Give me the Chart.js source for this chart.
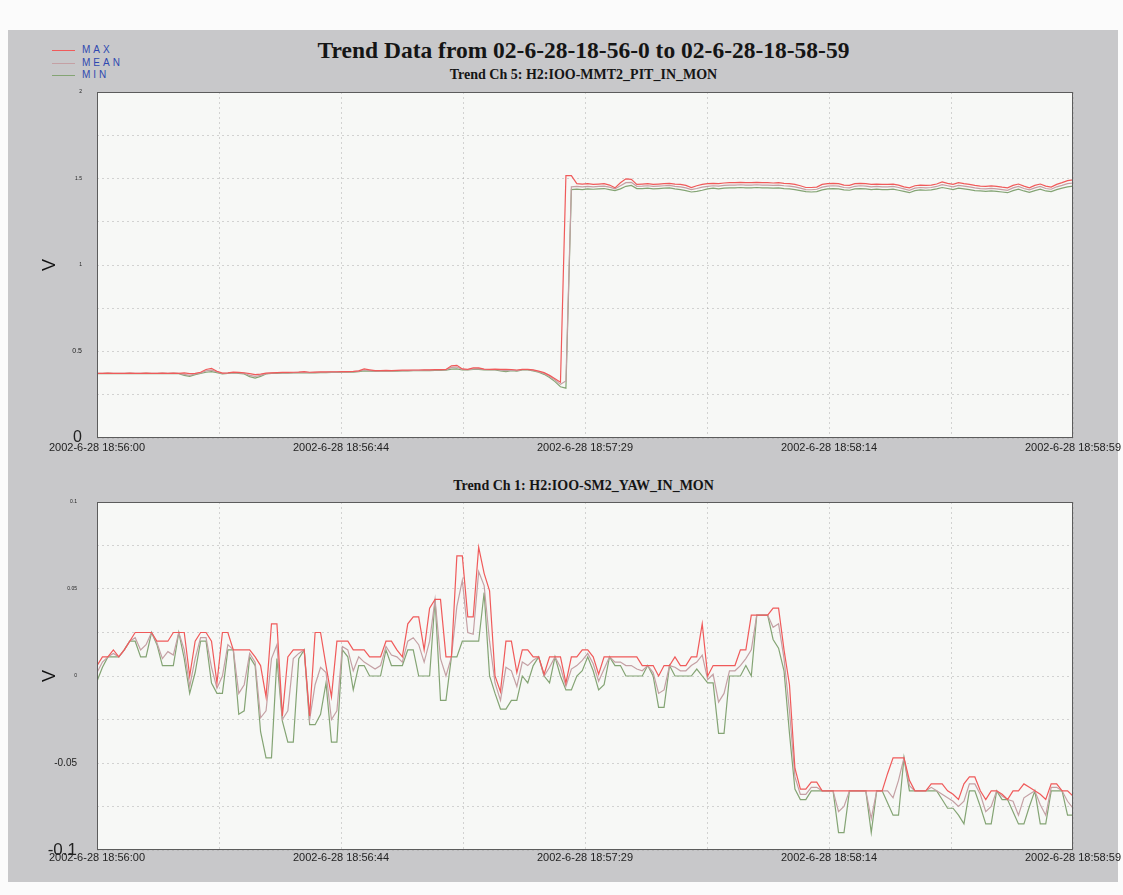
<!DOCTYPE html>
<html>
<head>
<meta charset="utf-8">
<title>Trend Data</title>
<script src="https://cdn.jsdelivr.net/npm/chart.js@4.4.1/dist/chart.umd.min.js"></script>
<style>
  html, body { margin: 0; padding: 0; background: #fbfbfb; }
  body { width: 1123px; height: 895px; position: relative; overflow: hidden; font-family: "Liberation Sans", Arial, sans-serif; }
  #sheet { position: absolute; left: 8px; top: 30px; width: 1110px; height: 852px; background: #c8c8ca; }
  canvas { position: absolute; left: 0; }
  #cTop { top: 80px; }
  #cBot { top: 490px; }
  .ttl { position: absolute; left: 22px; width: 1123px; text-align: center; font-family: "Liberation Serif", "Times New Roman", serif; font-weight: bold; color: #151515; white-space: nowrap; }
  #t0 { top: 38px; font-size: 23.5px; line-height: 24px; }
  #t1 { top: 68px; font-size: 14px; line-height: 14px; }
  #t2 { top: 479px; font-size: 14px; line-height: 14px; }
  .lg { position: absolute; left: 52px; height: 12px; }
  .lg i { position: absolute; left: 0; top: 6px; width: 23px; height: 1px; }
  .lg span { position: absolute; left: 30px; top: 0; font-size: 10px; line-height: 12px; letter-spacing: 3px; color: #2f48b0; }
</style>
</head>
<body>
<div id="sheet"></div>
<div class="lg" style="top:44px"><i style="background:#f05a5a"></i><span>MAX</span></div>
<div class="lg" style="top:57px"><i style="background:#c4a0a4"></i><span>MEAN</span></div>
<div class="lg" style="top:69px"><i style="background:#84a474"></i><span>MIN</span></div>
<div class="ttl" id="t0">Trend Data from 02-6-28-18-56-0 to 02-6-28-18-58-59</div>
<div class="ttl" id="t1">Trend Ch 5: H2:IOO-MMT2_PIT_IN_MON</div>
<div class="ttl" id="t2">Trend Ch 1: H2:IOO-SM2_YAW_IN_MON</div>
<canvas id="cTop" width="1123" height="380"></canvas>
<canvas id="cBot" width="1123" height="380"></canvas>
<script>
// x axis labels (one sample per second, 18:56:00 .. 18:58:59)
const xTickLabels = ['2002-6-28 18:56:00', '2002-6-28 18:56:44', '2002-6-28 18:57:29', '2002-6-28 18:58:14', '2002-6-28 18:58:59'];

// Ch 5: H2:IOO-MMT2_PIT_IN_MON
const yTopTicks = [0, 0.25, 0.5, 0.75, 1, 1.25, 1.5, 1.75, 2];
const yTopLabels = ['0', '', '0.5', '', '1', '', '1.5', '', '2'];

const mmtMax = [
  0.374, 0.374, 0.375, 0.374, 0.374, 0.374, 0.375, 0.374, 0.374, 0.375,
  0.374, 0.374, 0.375, 0.374, 0.375, 0.374, 0.376, 0.372, 0.374, 0.380,
  0.396, 0.402, 0.386, 0.375, 0.377, 0.381, 0.379, 0.377, 0.372, 0.366,
  0.369, 0.375, 0.377, 0.378, 0.379, 0.379, 0.380, 0.381, 0.384, 0.380,
  0.381, 0.382, 0.382, 0.383, 0.383, 0.384, 0.384, 0.385, 0.388, 0.399,
  0.394, 0.389, 0.390, 0.391, 0.390, 0.391, 0.392, 0.392, 0.393, 0.393,
  0.394, 0.394, 0.395, 0.395, 0.396, 0.417, 0.420, 0.399, 0.397, 0.405,
  0.405, 0.398, 0.397, 0.398, 0.397, 0.397, 0.396, 0.393, 0.397, 0.397,
  0.394, 0.387, 0.378, 0.362, 0.342, 0.322, 1.517, 1.517, 1.470, 1.468,
  1.470, 1.466, 1.468, 1.470, 1.462, 1.446, 1.475, 1.498, 1.495, 1.466,
  1.468, 1.470, 1.466, 1.468, 1.470, 1.472, 1.468, 1.466, 1.460, 1.448,
  1.458, 1.466, 1.470, 1.472, 1.470, 1.474, 1.476, 1.476, 1.478, 1.476,
  1.476, 1.478, 1.476, 1.476, 1.474, 1.476, 1.472, 1.470, 1.466, 1.458,
  1.448, 1.448, 1.450, 1.466, 1.470, 1.472, 1.470, 1.462, 1.460, 1.470,
  1.472, 1.470, 1.466, 1.468, 1.466, 1.466, 1.468, 1.462, 1.452, 1.446,
  1.458, 1.462, 1.460, 1.462, 1.468, 1.480, 1.472, 1.466, 1.476, 1.470,
  1.466, 1.460, 1.456, 1.455, 1.457, 1.455, 1.450, 1.446, 1.460, 1.468,
  1.456, 1.446, 1.460, 1.468, 1.456, 1.450, 1.466, 1.476, 1.488, 1.492
];
const mmtMean = [
  0.373, 0.373, 0.374, 0.373, 0.373, 0.373, 0.374, 0.373, 0.373, 0.374,
  0.373, 0.373, 0.374, 0.373, 0.374, 0.373, 0.368, 0.362, 0.370, 0.376,
  0.388, 0.392, 0.382, 0.373, 0.375, 0.378, 0.376, 0.374, 0.362, 0.356,
  0.362, 0.372, 0.375, 0.376, 0.377, 0.377, 0.378, 0.379, 0.380, 0.378,
  0.379, 0.380, 0.380, 0.381, 0.381, 0.382, 0.382, 0.383, 0.386, 0.393,
  0.390, 0.387, 0.388, 0.389, 0.388, 0.389, 0.390, 0.390, 0.391, 0.391,
  0.392, 0.392, 0.393, 0.393, 0.394, 0.408, 0.410, 0.396, 0.395, 0.400,
  0.401, 0.396, 0.395, 0.396, 0.392, 0.389, 0.392, 0.390, 0.395, 0.395,
  0.391, 0.383, 0.373, 0.356, 0.335, 0.310, 0.330, 1.452, 1.455, 1.452,
  1.455, 1.452, 1.454, 1.456, 1.450, 1.440, 1.458, 1.476, 1.478, 1.455,
  1.456, 1.458, 1.454, 1.456, 1.458, 1.460, 1.455, 1.452, 1.446, 1.436,
  1.442, 1.450, 1.455, 1.458, 1.456, 1.460, 1.462, 1.462, 1.464, 1.462,
  1.462, 1.464, 1.462, 1.462, 1.460, 1.462, 1.458, 1.456, 1.452, 1.444,
  1.436, 1.435, 1.438, 1.450, 1.456, 1.458, 1.456, 1.448, 1.446, 1.455,
  1.458, 1.456, 1.452, 1.454, 1.452, 1.452, 1.454, 1.448, 1.440, 1.432,
  1.444, 1.448, 1.446, 1.448, 1.454, 1.464, 1.458, 1.452, 1.460, 1.456,
  1.452, 1.446, 1.442, 1.440, 1.443, 1.440, 1.436, 1.432, 1.446, 1.454,
  1.442, 1.434, 1.446, 1.454, 1.442, 1.438, 1.452, 1.460, 1.470, 1.474
];
const mmtMin = [
  0.372, 0.372, 0.373, 0.372, 0.372, 0.372, 0.373, 0.372, 0.372, 0.373,
  0.372, 0.372, 0.373, 0.372, 0.373, 0.372, 0.362, 0.356, 0.366, 0.374,
  0.380, 0.384, 0.378, 0.371, 0.373, 0.376, 0.374, 0.370, 0.355, 0.346,
  0.356, 0.370, 0.373, 0.374, 0.375, 0.375, 0.376, 0.377, 0.378, 0.376,
  0.377, 0.378, 0.378, 0.379, 0.379, 0.380, 0.380, 0.381, 0.384, 0.388,
  0.386, 0.385, 0.386, 0.387, 0.386, 0.387, 0.388, 0.388, 0.389, 0.389,
  0.390, 0.390, 0.391, 0.391, 0.392, 0.398, 0.400, 0.393, 0.393, 0.396,
  0.397, 0.394, 0.393, 0.394, 0.388, 0.384, 0.389, 0.386, 0.393, 0.393,
  0.388, 0.380, 0.368, 0.350, 0.326, 0.296, 0.288, 1.436, 1.438, 1.436,
  1.440, 1.438, 1.440, 1.442, 1.436, 1.430, 1.440, 1.455, 1.460, 1.442,
  1.442, 1.444, 1.440, 1.442, 1.444, 1.446, 1.440, 1.436, 1.430, 1.422,
  1.426, 1.432, 1.440, 1.444, 1.440, 1.444, 1.446, 1.446, 1.448, 1.446,
  1.446, 1.448, 1.446, 1.446, 1.444, 1.446, 1.442, 1.440, 1.436, 1.430,
  1.424, 1.422, 1.424, 1.434, 1.440, 1.442, 1.440, 1.434, 1.432, 1.440,
  1.442, 1.440, 1.436, 1.438, 1.436, 1.436, 1.438, 1.432, 1.426, 1.418,
  1.430, 1.434, 1.432, 1.434, 1.440, 1.448, 1.442, 1.436, 1.444, 1.440,
  1.436, 1.430, 1.428, 1.426, 1.428, 1.426, 1.422, 1.418, 1.430, 1.438,
  1.428, 1.420, 1.430, 1.438, 1.428, 1.424, 1.436, 1.444, 1.452, 1.456
];

// Ch 1: H2:IOO-SM2_YAW_IN_MON
const yBotTicks = [-0.1, -0.075, -0.05, -0.025, 0, 0.025, 0.05, 0.075, 0.1];
const yBotLabels = ['-0.1', '', '-0.05', '', '0', '', '0.05', '', '0.1'];

const sm2Max = [
  0.006, 0.011, 0.011, 0.015, 0.011, 0.015, 0.020, 0.025, 0.025, 0.025,
  0.025, 0.020, 0.020, 0.020, 0.025, 0.025, 0.025, 0.000, 0.020, 0.025,
  0.025, 0.020, -0.004, 0.025, 0.025, 0.015, 0.015, 0.015, 0.015, 0.011,
  0.006, -0.012, 0.030, 0.030, -0.023, 0.011, 0.015, 0.015, 0.015, -0.023,
  0.025, 0.025, 0.006, -0.012, 0.020, 0.020, 0.020, 0.015, 0.015, 0.015,
  0.011, 0.011, 0.011, 0.020, 0.020, 0.015, 0.011, 0.030, 0.034, 0.034,
  0.015, 0.039, 0.044, 0.044, 0.011, 0.011, 0.069, 0.069, 0.034, 0.034,
  0.074, 0.059, 0.049, 0.000, -0.009, 0.020, 0.020, 0.002, 0.015, 0.015,
  0.011, 0.011, 0.001, 0.011, 0.011, 0.011, -0.004, 0.011, 0.011, 0.015,
  0.015, 0.011, 0.001, 0.011, 0.011, 0.011, 0.011, 0.011, 0.011, 0.011,
  0.006, 0.006, 0.006, 0.000, 0.006, 0.006, 0.011, 0.006, 0.006, 0.011,
  0.011, 0.030, 0.000, 0.006, 0.006, 0.006, 0.006, 0.006, 0.015, 0.015,
  0.035, 0.035, 0.035, 0.035, 0.039, 0.039, 0.015, -0.005, -0.053, -0.065,
  -0.065, -0.061, -0.061, -0.066, -0.066, -0.066, -0.066, -0.066, -0.066, -0.066,
  -0.066, -0.066, -0.066, -0.066, -0.066, -0.056, -0.047, -0.047, -0.047, -0.060,
  -0.066, -0.066, -0.066, -0.062, -0.062, -0.062, -0.066, -0.068, -0.071, -0.062,
  -0.058, -0.058, -0.066, -0.071, -0.066, -0.066, -0.068, -0.071, -0.066, -0.066,
  -0.062, -0.064, -0.066, -0.068, -0.071, -0.062, -0.062, -0.066, -0.066, -0.069
];
const sm2Mean = [
  0.002, 0.008, 0.011, 0.013, 0.011, 0.015, 0.020, 0.022, 0.015, 0.018,
  0.025, 0.019, 0.010, 0.014, 0.012, 0.025, 0.015, -0.006, 0.010, 0.022,
  0.022, 0.005, -0.007, 0.000, 0.018, 0.015, -0.010, -0.005, 0.013, 0.008,
  -0.024, -0.020, 0.010, 0.018, -0.025, -0.020, 0.010, 0.013, 0.015, -0.025,
  -0.005, 0.005, 0.002, -0.025, -0.020, 0.017, 0.015, 0.003, 0.011, 0.008,
  0.006, 0.004, 0.006, 0.017, 0.012, 0.011, 0.008, 0.020, 0.022, 0.018,
  0.008, 0.020, 0.044, 0.010, 0.000, 0.011, 0.040, 0.055, 0.025, 0.024,
  0.060, 0.052, 0.020, -0.004, -0.014, 0.005, 0.003, -0.006, 0.008, 0.006,
  0.009, 0.011, 0.000, 0.005, 0.011, 0.005, -0.006, 0.004, 0.006, 0.009,
  0.013, 0.007, -0.003, 0.004, 0.011, 0.008, 0.008, 0.006, 0.006, 0.004,
  0.003, 0.006, 0.002, -0.010, -0.008, 0.006, 0.005, 0.003, 0.003, 0.006,
  0.008, 0.012, -0.002, 0.001, -0.015, -0.010, 0.003, 0.003, 0.006, 0.010,
  0.015, 0.035, 0.035, 0.035, 0.028, 0.030, 0.010, -0.020, -0.058, -0.068,
  -0.068, -0.064, -0.064, -0.066, -0.066, -0.066, -0.078, -0.075, -0.066, -0.066,
  -0.066, -0.066, -0.082, -0.066, -0.066, -0.066, -0.070, -0.060, -0.047, -0.063,
  -0.066, -0.066, -0.066, -0.064, -0.066, -0.068, -0.070, -0.072, -0.075, -0.072,
  -0.062, -0.062, -0.068, -0.078, -0.075, -0.066, -0.069, -0.071, -0.072, -0.080,
  -0.070, -0.068, -0.066, -0.074, -0.080, -0.064, -0.064, -0.066, -0.072, -0.076
];
const sm2Min = [
  -0.003, 0.005, 0.011, 0.011, 0.011, 0.015, 0.020, 0.020, 0.011, 0.011,
  0.025, 0.018, 0.006, 0.006, 0.006, 0.025, 0.010, -0.010, 0.002, 0.020,
  0.020, -0.004, -0.010, -0.010, 0.015, 0.015, -0.022, -0.020, 0.011, 0.006,
  -0.032, -0.047, -0.047, 0.010, -0.026, -0.038, -0.038, 0.010, 0.015, -0.028,
  -0.028, -0.022, -0.004, -0.038, -0.038, 0.015, 0.011, -0.008, 0.006, 0.006,
  0.000, 0.000, 0.000, 0.015, 0.006, 0.006, 0.006, 0.015, 0.015, 0.000,
  0.000, 0.000, 0.044, -0.014, -0.014, 0.011, 0.011, 0.020, 0.020, 0.020,
  0.020, 0.048, 0.000, -0.010, -0.019, -0.019, -0.014, -0.014, 0.000, -0.004,
  0.006, 0.011, 0.000, -0.004, 0.011, 0.000, -0.008, -0.008, 0.000, 0.003,
  0.011, 0.003, -0.008, -0.005, 0.011, 0.006, 0.006, 0.000, 0.000, 0.000,
  0.000, 0.006, 0.000, -0.018, -0.018, 0.006, 0.000, 0.000, 0.000, 0.000,
  0.004, 0.000, -0.004, -0.004, -0.033, -0.033, 0.000, 0.000, 0.000, 0.006,
  0.000, 0.035, 0.035, 0.035, 0.021, 0.016, 0.003, -0.033, -0.065, -0.071,
  -0.071, -0.066, -0.066, -0.066, -0.066, -0.066, -0.090, -0.090, -0.066, -0.066,
  -0.066, -0.066, -0.090, -0.066, -0.066, -0.073, -0.080, -0.080, -0.047, -0.066,
  -0.066, -0.066, -0.066, -0.066, -0.066, -0.071, -0.076, -0.076, -0.080, -0.085,
  -0.066, -0.066, -0.075, -0.085, -0.085, -0.066, -0.071, -0.071, -0.078, -0.085,
  -0.085, -0.075, -0.066, -0.085, -0.085, -0.066, -0.066, -0.066, -0.080, -0.080
];

const FONT = '"Liberation Sans", Arial, sans-serif';
const LAST_SEC = 179;
const GRID = 'rgba(165,165,165,0.45)';

// white plot panel + dark frame round it
const framePlugin = {
  id: 'frame',
  beforeDraw(chart) {
    const { ctx, chartArea: a } = chart;
    ctx.save();
    ctx.fillStyle = '#f7f8f6';
    ctx.fillRect(a.left, a.top, a.right - a.left, a.bottom - a.top);
    ctx.restore();
  },
  afterDraw(chart) {
    const { ctx, chartArea: a } = chart;
    ctx.save();
    ctx.strokeStyle = '#5c5c5c';
    ctx.lineWidth = 1;
    ctx.strokeRect(Math.round(a.left) + 0.5, Math.round(a.top) + 0.5,
      Math.round(a.right - a.left) - 1, Math.round(a.bottom - a.top) - 1);
    ctx.restore();
  }
};

function series(values) {
  return values.map((v, i) => ({ x: i, y: v }));
}

function trendChart(id, d, yTicks, yLabels, yFontSizes, opt) {
  return new Chart(document.getElementById(id), {
    type: 'line',
    data: {
      datasets: [
        { label: 'MAX', data: series(d.max), borderColor: '#f05a5a' },
        { label: 'MEAN', data: series(d.mean), borderColor: '#c4a0a4' },
        { label: 'MIN', data: series(d.min), borderColor: '#84a474' }
      ]
    },
    options: {
      responsive: false,
      animation: false,
      devicePixelRatio: 1,
      layout: { padding: { top: opt.top, right: 50, left: 0, bottom: 0 } },
      elements: {
        point: { radius: 0 },
        line: { borderWidth: 1.2, tension: 0 }
      },
      plugins: { legend: { display: false }, tooltip: { enabled: false } },
      scales: {
        x: {
          type: 'linear',
          min: 0,
          max: LAST_SEC,
          afterBuildTicks(scale) {
            scale.ticks = [0, 1, 2, 3, 4, 5, 6, 7, 8].map(k => ({ value: k * LAST_SEC / 8 }));
          },
          afterFit(scale) {
            scale.height = opt.xHeight;
            scale.paddingLeft = 0; scale.paddingRight = 0;
          },
          ticks: {
            autoSkip: false,
            maxRotation: 0,
            minRotation: 0,
            padding: opt.xPad,
            color: '#222',
            font: { family: FONT, size: 11 },
            callback: (v, i) => (i % 2 === 0 ? xTickLabels[i / 2] : '')
          },
          grid: { color: GRID, drawTicks: false, lineWidth: 1 },
          border: { display: false, dash: [2, 3] }
        },
        y: {
          type: 'linear',
          min: yTicks[0],
          max: yTicks[yTicks.length - 1],
          afterBuildTicks(scale) {
            scale.ticks = yTicks.map(v => ({ value: v }));
          },
          afterFit(scale) {
            scale.width = 97;
            scale.paddingTop = 0; scale.paddingBottom = 0;
          },
          ticks: {
            padding: opt.yPad,
            color: '#222',
            font: ctx => ({ family: FONT, size: yFontSizes[ctx.index] || 5 }),
            callback: (v, i) => yLabels[i]
          },
          grid: { color: GRID, drawTicks: false, lineWidth: 1 },
          border: { display: false, dash: [2, 3] },
          title: {
            display: true,
            text: 'V',
            color: '#111',
            font: { family: FONT, size: 18 },
            padding: { top: 39, bottom: 0 }
          }
        }
      }
    },
    plugins: [framePlugin]
  });
}

trendChart('cTop', { max: mmtMax, mean: mmtMean, min: mmtMin },
  yTopTicks, yTopLabels, [16, 5, 7, 5, 5, 5, 5, 5, 5],
  { top: 12, xHeight: 22, xPad: 3, yPad: 15 });

trendChart('cBot', { max: sm2Max, mean: sm2Mean, min: sm2Min },
  yBotTicks, yBotLabels, [17, 5, 10, 5, 5, 5, 5, 5, 5],
  { top: 12, xHeight: 20, xPad: 1, yPad: 20 });
</script>
</body>
</html>
